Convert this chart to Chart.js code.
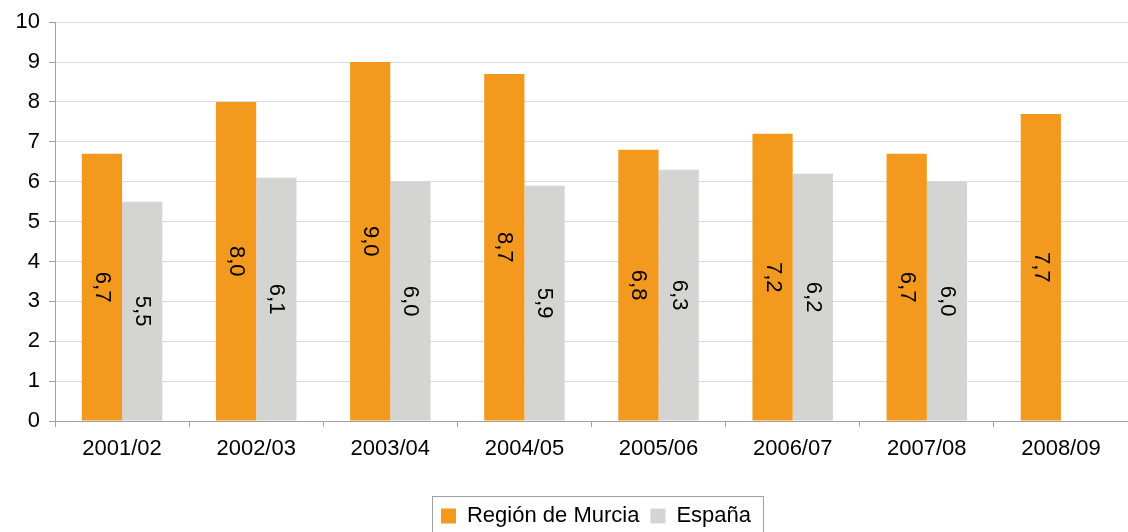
<!DOCTYPE html>
<html>
<head>
<meta charset="utf-8">
<script src="https://cdn.jsdelivr.net/npm/chart.js"></script>
<style>
  body { margin: 0; background: #fff; }
  #wrap { width: 1128px; height: 532px; }
</style>
</head>
<body>
<div id="wrap"><canvas id="myBarChart"></canvas></div>
<script>
const cursos = ["2001/02", "2002/03", "2003/04", "2004/05", "2005/06", "2006/07", "2007/08", "2008/09"];
const murcia = [6.7, 8.0, 9.0, 8.7, 6.8, 7.2, 6.7, 7.7];
const espana = [5.5, 6.1, 6.0, 5.9, 6.3, 6.2, 6.0, null];
const yTicks = [0, 1, 2, 3, 4, 5, 6, 7, 8, 9, 10];

const fontName = "'Liberation Sans', Arial, sans-serif";

// labels turned 90 degrees, in the middle of each bar
const barLabels = {
  id: "barLabels",
  afterDatasetsDraw(chart) {
    const ctx = chart.ctx;
    ctx.save();
    ctx.font = "22px " + fontName;
    ctx.fillStyle = "#000";
    ctx.textAlign = "center";
    ctx.textBaseline = "middle";
    chart.data.datasets.forEach((ds, i) => {
      chart.getDatasetMeta(i).data.forEach((bar, j) => {
        const v = ds.data[j];
        if (v === null) return;
        ctx.save();
        ctx.translate(bar.x, (bar.y + bar.base) / 2);
        ctx.rotate(Math.PI / 2);
        ctx.fillText(v.toFixed(1).replace(".", ","), 0, 0);
        ctx.restore();
      });
    });
    ctx.restore();
  }
};

// legend sits a bit right of centre, with a frame round it
const legendBox = {
  id: "legendBox",
  afterUpdate(chart) {
    const lg = chart.legend;
    if (!lg) return;
    lg.left += 32;
    lg.right += 32;
    lg.top += 5;
    lg.bottom += 5;
  },
  afterDraw(chart) {
    const lg = chart.legend;
    if (!lg) return;
    const ctx = chart.ctx;
    const lab = lg.options.labels;
    const size = lab.font.size;
    ctx.save();
    ctx.font = size + "px " + fontName;
    let content = 0;
    lg.legendItems.forEach((it, k) => {
      content += lab.boxWidth + size / 2 + ctx.measureText(it.text).width;
      if (k > 0) content += lab.padding;
    });
    const start = (lg.left + lg.right - content) / 2;
    const mid = lg.top + lab.padding + size / 2;
    const left = Math.round(start - 9) + 0.5;
    const right = Math.round(start + content + 12) + 0.5;
    const top = Math.round(mid - 20) + 0.5;
    ctx.strokeStyle = "#a0a0a0";
    ctx.lineWidth = 1;
    ctx.strokeRect(left, top, right - left, 60);
    ctx.restore();
  }
};

let operators = {
  type: "bar",
  data: {
    labels: cursos,
    datasets: [
      {
        label: "Región de Murcia",
        data: murcia,
        backgroundColor: "#F39A1E",
        categoryPercentage: 0.6,
        barPercentage: 1.0,
      },
      {
        label: "España",
        data: espana,
        backgroundColor: "#D4D4D2",
        categoryPercentage: 0.6,
        barPercentage: 1.0,
      },
    ],
  },
  options: {
    responsive: true,
    maintainAspectRatio: false,
    animation: false,
    layout: { padding: { top: 19, right: 0, left: 0, bottom: 0 } },
    plugins: {
      tooltip: { enabled: false },
      legend: {
        position: "bottom",
        labels: {
          boxWidth: 15,
          boxHeight: 15,
          padding: 11,
          color: "#000",
          font: { family: fontName, size: 22 },
        },
      },
    },
    scales: {
      x: {
        grid: {
          offset: true,
          drawOnChartArea: false,
          drawTicks: true,
          tickLength: 6,
          color: "#a0a0a0",
        },
        border: { color: "#a0a0a0" },
        ticks: {
          color: "#000",
          padding: 9,
          font: { family: fontName, size: 22 },
        },
        afterFit(scale) { scale.height = 68; },
      },
      y: {
        min: 0,
        max: 10,
        afterBuildTicks(scale) { scale.ticks = yTicks.map((v) => ({ value: v })); },
        grid: {
          color: "#d9d9e2",
          tickLength: 6,
          tickColor: "#a0a0a0",
        },
        border: { color: "#a0a0a0" },
        ticks: {
          color: "#000",
          padding: 9,
          font: { family: fontName, size: 22 },
        },
        afterFit(scale) { scale.width = 55; },
      },
    },
  },
  plugins: [barLabels, legendBox],
};

let myChart = document.getElementById("myBarChart").getContext("2d");
let massPopChart = new Chart(myChart, operators);
</script>
</body>
</html>
